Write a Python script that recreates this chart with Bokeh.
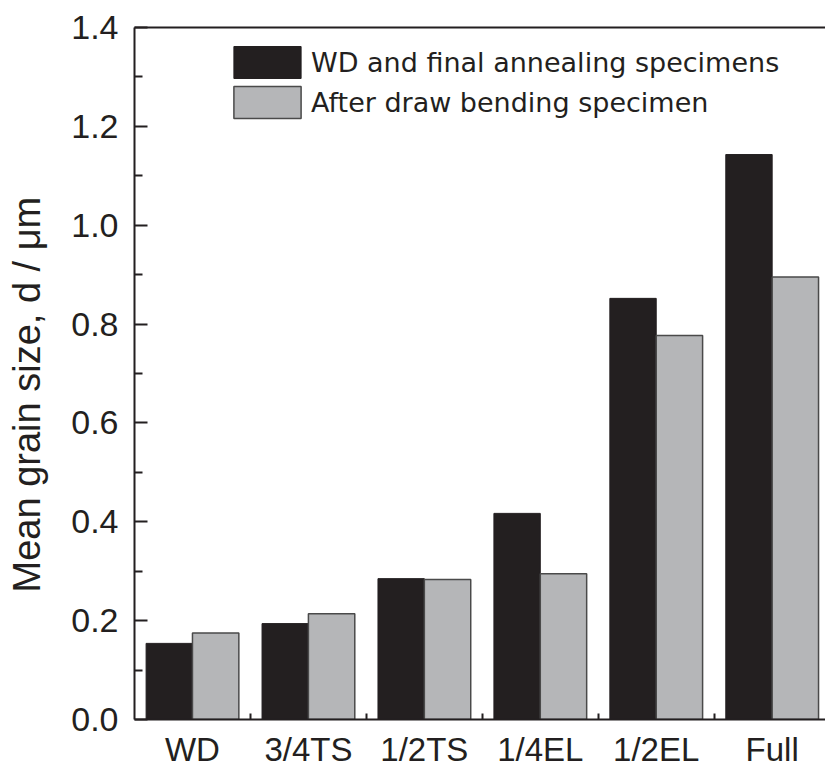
from bokeh.plotting import figure
from bokeh.models import (ColumnDataSource, FixedTicker, LinearAxis, Range1d,
                          Legend, LegendItem)
from bokeh.embed import file_html
from bokeh.resources import INLINE

categories = ["WD", "3/4TS", "1/2TS", "1/4EL", "1/2EL", "Full"]
wd_final = [0.154, 0.194, 0.285, 0.417, 0.852, 1.143]
after_bending = [0.175, 0.214, 0.283, 0.295, 0.777, 0.895]
y_ticks = [0.0, 0.2, 0.4, 0.6, 0.8, 1.0, 1.2, 1.4]
y_minor = [0.1, 0.3, 0.5, 0.7, 0.9, 1.1, 1.3]
y_title = "Mean grain size, d / \u03bcm"

pos = list(range(1, len(categories) + 1))
src = ColumnDataSource(dict(
    x1=[p - 0.2 for p in pos], x2=[p + 0.2 for p in pos],
    a=wd_final, b=after_bending))

FONT = "Liberation Sans"
INK = "#231f20"

p = figure(frame_width=691, frame_height=692, output_backend="svg",
           toolbar_location=None, x_range=Range1d(0.5, 6.46),
           y_range=Range1d(0, 1.4), min_border_left=134, min_border_right=0,
           min_border_top=27, min_border_bottom=50, x_axis_type=None,
           y_axis_type=None)
p.outline_line_color = None
p.xgrid.visible = False
p.ygrid.visible = False
p.background_fill_color = "white"

r1 = p.vbar(x="x1", width=0.4, top="a", bottom=0, source=src,
            fill_color=INK, line_color=INK, line_width=1)
r2 = p.vbar(x="x2", width=0.4, top="b", bottom=0, source=src,
            fill_color="#b5b6b8", line_color="#4a4a4a", line_width=1.5)

# bottom axis
xa = LinearAxis(ticker=FixedTicker(ticks=pos,
                                   minor_ticks=[q + 0.5 for q in pos[:-1]]))
xa.major_label_overrides = {q: c for q, c in zip(pos, categories)}
xa.major_tick_line_color = None
xa.minor_tick_in = 6
xa.minor_tick_out = 0
xa.minor_tick_line_color = INK
xa.minor_tick_line_width = 2
xa.axis_line_color = INK
xa.axis_line_width = 2
xa.major_label_text_font = FONT
xa.major_label_text_font_size = "33px"
xa.major_label_text_color = INK
xa.major_label_standoff = 5
p.add_layout(xa, "below")

# top line
ta = LinearAxis(ticker=FixedTicker(ticks=[]))
ta.major_tick_line_color = None
ta.minor_tick_line_color = None
ta.major_label_text_font_size = "0px"
ta.axis_line_color = INK
ta.axis_line_width = 2
p.add_layout(ta, "above")

# left axis
ya = LinearAxis(ticker=FixedTicker(ticks=y_ticks, minor_ticks=y_minor))
ya.major_label_overrides = {t: f"{t:.1f}" for t in y_ticks}
ya.major_tick_in = 13
ya.major_tick_out = 0
ya.minor_tick_in = 8
ya.minor_tick_out = 0
ya.major_tick_line_color = INK
ya.minor_tick_line_color = INK
ya.major_tick_line_width = 2
ya.minor_tick_line_width = 2
ya.axis_line_color = INK
ya.axis_line_width = 2
ya.major_label_text_font = FONT
ya.major_label_text_font_size = "34px"
ya.major_label_text_color = INK
ya.major_label_standoff = 16
# trailing no-break spaces nudge the centred title towards the bottom
ya.axis_label = y_title + "\u00a0" * 4
ya.axis_label_text_font = FONT
ya.axis_label_text_font_style = "normal"
ya.axis_label_text_font_size = "38px"
ya.axis_label_text_color = INK
ya.axis_label_standoff = 20
p.add_layout(ya, "left")

legend = Legend(items=[
    LegendItem(label="WD and final annealing specimens", renderers=[r1]),
    LegendItem(label="After draw bending specimen", renderers=[r2]),
], location=(91, 597))
legend.glyph_width = 84
legend.glyph_height = 40
legend.label_height = 40
legend.spacing = -2
legend.padding = 0
legend.margin = 0
legend.label_standoff = 2
legend.label_text_font = "DejaVu Sans"
legend.label_text_font_size = "27px"
legend.label_text_color = INK
legend.border_line_color = None
legend.background_fill_alpha = 0
p.add_layout(legend, "center")

open("out.html", "w").write(file_html(p, INLINE))
